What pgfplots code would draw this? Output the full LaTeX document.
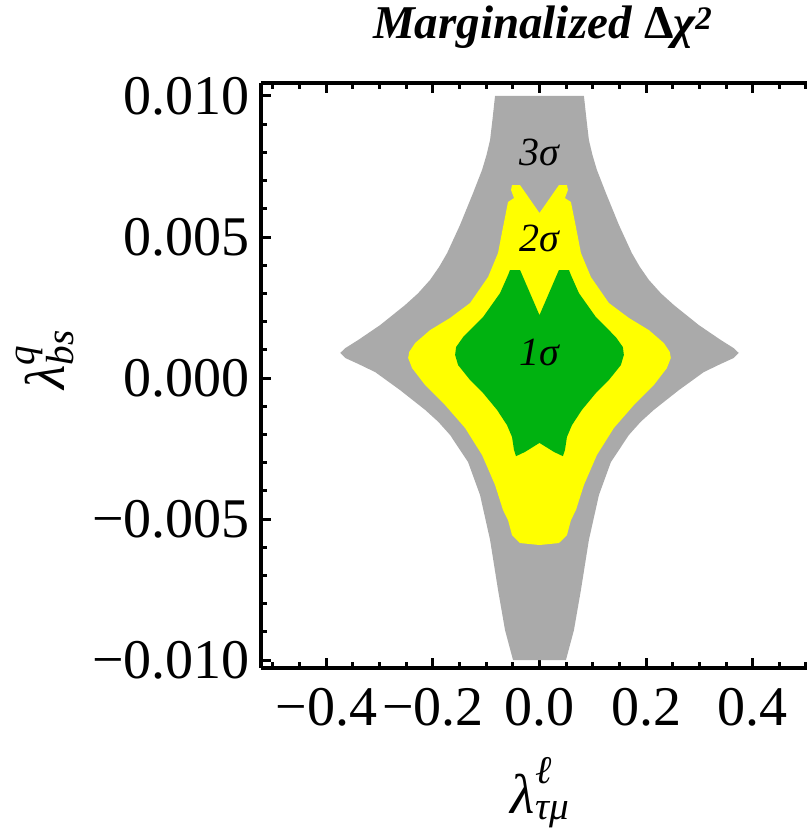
\documentclass[border=0pt]{standalone}
\usepackage{fontspec}
\setmainfont{Liberation Serif}
\usepackage{amsmath}
\usepackage{pgfplots}
\pgfplotsset{compat=1.18}
\definecolor{grayc}{RGB}{170,170,170}
\definecolor{yelc}{RGB}{255,255,0}
\definecolor{grnc}{RGB}{0,178,16}
\pgfplotsset{
  every tick/.append style={line width=3pt, black},
  every major tick/.append style={line width=3pt, black},
  every minor tick/.append style={line width=3pt, black},
}
\begin{document}
\begin{tikzpicture}
\begin{axis}[name=ax, scale only axis, width=546pt, height=585pt,
  xmin=-0.5225, xmax=0.5019, ymin=-0.01028, ymax=0.01046,
  axis y line*=left,
  axis line style={line width=3.5pt, -},
  every inner y axis line/.append style={-},
  every outer y axis line/.append style={-, line width=3.5pt},
  every outer x axis line/.append style={line width=3.5pt},
  xtick={-0.4,-0.2,0,0.2,0.4},
  xticklabels={−0.4,−0.2,0.0,0.2,0.4},
  ytick={-0.01,-0.005,0,0.005,0.01},
  yticklabels={−0.010,−0.005,0.000,0.005,0.010},
  minor xtick={-0.5,-0.45,-0.35,-0.3,-0.25,-0.15,-0.1,-0.05,0.05,0.1,0.15,0.25,0.3,0.35,0.45,0.5},
  minor ytick={-0.009,-0.008,-0.007,-0.006,-0.004,-0.003,-0.002,-0.001,0.001,0.002,0.003,0.004,0.006,0.007,0.008,0.009},
  tick align=inside, major tick length=10pt, minor tick length=6pt,
  tick style={black, line width=3pt},
  major tick style={black, line width=3pt},
  minor tick style={black, line width=3pt},
  tick label style={font=\fontsize{56}{64}\selectfont, inner sep=0pt},
  yticklabel style={xshift=-11pt},
  xticklabel style={yshift=-20pt},
  scaled ticks=false,
  title={\fontsize{47}{54}\selectfont\bfseries\itshape Marginalized \textup{Δ}χ\textsuperscript{2}},
  title style={at={(axis description cs:0.516,1.0855)}, anchor=center, inner sep=0pt},
  xlabel={\fontsize{56}{64}\selectfont$\text{\itshape λ}^{\text{\itshape ℓ}}_{\text{\itshape τμ}}$},
  xlabel style={at={(axis description cs:0.511,-0.2137)}, anchor=center, inner sep=0pt},
  ylabel={\fontsize{56}{64}\selectfont$\text{\itshape λ}^{\text{\itshape q}}_{\text{\itshape bs}}$},
  ylabel style={at={(axis description cs:-0.3956,0.5265)}, anchor=center, inner sep=0pt},
]
% 3 sigma (gray)
\addplot[fill=grayc, draw=none] coordinates {
(-0.0834,0.0100) (-0.0880,0.00920) (-0.0927,0.00844) (-0.0995,0.00790) (-0.1077,0.00738) (-0.1246,0.00656) (-0.1490,0.00543)
(-0.1733,0.00443) (-0.1880,0.00395) (-0.2052,0.00348) (-0.2280,0.00300) (-0.2520,0.00259) (-0.2988,0.00188) (-0.3400,0.00135)
(-0.3644,0.00106) (-0.3738,0.00089) (-0.3644,0.00071) (-0.3400,0.00050) (-0.3082,0.00021)
(-0.2614,-0.00043) (-0.2145,-0.00113) (-0.1900,-0.00155) (-0.1677,-0.00202) (-0.1340,-0.00298) (-0.1115,-0.00415)
(-0.0927,-0.00574) (-0.0777,-0.00752) (-0.0646,-0.00894) (-0.0496,-0.0100)
(0.0496,-0.0100) (0.0646,-0.00894) (0.0777,-0.00752) (0.0927,-0.00574)
(0.1115,-0.00415) (0.1340,-0.00298) (0.1677,-0.00202) (0.1900,-0.00155) (0.2145,-0.00113) (0.2614,-0.00043)
(0.3082,0.00021) (0.3400,0.00050) (0.3644,0.00071) (0.3738,0.00089) (0.3644,0.00106)
(0.3400,0.00135) (0.2988,0.00188) (0.2520,0.00259) (0.2280,0.00300) (0.2052,0.00348) (0.1880,0.00395) (0.1733,0.00443)
(0.1490,0.00543) (0.1246,0.00656) (0.1077,0.00738) (0.0995,0.00790) (0.0927,0.00844) (0.0880,0.00920) (0.0834,0.0100)
} -- cycle;
% 2 sigma (yellow)
\addplot[fill=yelc, draw=none] coordinates {
(0,0.00585) (-0.0365,0.00684) (-0.0515,0.00684) (-0.0534,0.00667) (-0.0478,0.00638)
(-0.0590,0.00624) (-0.0684,0.00535) (-0.0778,0.00443) (-0.0965,0.00358) (-0.1302,0.00266)
(-0.1677,0.00213) (-0.2052,0.00170) (-0.2333,0.00124) (-0.2445,0.00092) (-0.2464,0.00071)
(-0.2389,0.00035) (-0.2145,-0.00025) (-0.1770,-0.00096) (-0.1396,-0.00177) (-0.1077,-0.00273)
(-0.0834,-0.00379) (-0.0684,-0.00468) (-0.0590,-0.00504) (-0.0515,-0.00557) (-0.0365,-0.00585)
(0,-0.00592)
(0.0365,-0.00585) (0.0515,-0.00557) (0.0590,-0.00504) (0.0684,-0.00468) (0.0834,-0.00379)
(0.1077,-0.00273) (0.1396,-0.00177) (0.1770,-0.00096) (0.2145,-0.00025) (0.2389,0.00035)
(0.2464,0.00071) (0.2445,0.00092) (0.2333,0.00124) (0.2052,0.00170) (0.1677,0.00213)
(0.1302,0.00266) (0.0965,0.00358) (0.0778,0.00443) (0.0684,0.00535) (0.0590,0.00624)
(0.0478,0.00638) (0.0534,0.00667) (0.0515,0.00684) (0.0365,0.00684)
} -- cycle;
% 1 sigma (green)
\addplot[fill=grnc, draw=none] coordinates {
(0,0.00223) (-0.0365,0.00383) (-0.0553,0.00383) (-0.0590,0.00365) (-0.0740,0.00301)
(-0.1059,0.00216) (-0.1433,0.00145) (-0.1564,0.00110) (-0.1583,0.00082) (-0.1527,0.00046)
(-0.1302,-0.00007) (-0.1059,-0.00053) (-0.0796,-0.00113) (-0.0609,-0.00167) (-0.0515,-0.00209)
(-0.0478,-0.00255) (-0.0440,-0.00277) (-0.0272,-0.00262) (0,-0.00230)
(0.0272,-0.00262) (0.0440,-0.00277) (0.0478,-0.00255) (0.0515,-0.00209) (0.0609,-0.00167)
(0.0796,-0.00113) (0.1059,-0.00053) (0.1302,-0.00007) (0.1527,0.00046) (0.1583,0.00082)
(0.1564,0.00110) (0.1433,0.00145) (0.1059,0.00216) (0.0740,0.00301) (0.0590,0.00365)
(0.0553,0.00383) (0.0365,0.00383)
} -- cycle;
\node at (axis cs:0,0.00798) {\fontsize{40}{46}\selectfont\itshape 3σ};
\node at (axis cs:0,0.00496) {\fontsize{40}{46}\selectfont\itshape 2σ};
\node at (axis cs:0,0.00092) {\fontsize{40}{46}\selectfont\itshape 1σ};
\end{axis}
\pgfresetboundingbox
\path[use as bounding box] ([xshift=-261pt,yshift=-162pt]ax.south west) rectangle ([yshift=83pt]ax.north east);
\end{tikzpicture}
\end{document}
